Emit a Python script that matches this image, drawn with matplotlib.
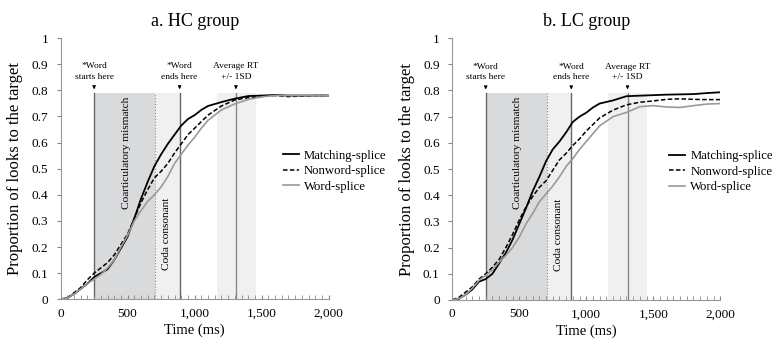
import numpy as np
import matplotlib.pyplot as plt
from matplotlib.ticker import MultipleLocator, FuncFormatter

plt.rcParams['font.family'] = ['Liberation Serif', 'DejaVu Serif']

# ---------------- data ----------------
TITLES = ["a. HC group", "b. LC group"]
SERIES = ["Matching-splice", "Nonword-splice", "Word-splice"]

# time grid (ms), shared by both groups
time_ms = [0, 50, 100, 150, 200, 250, 300, 350, 400, 450, 500, 550, 600, 650, 700,
           750, 800, 850, 900, 950, 1000, 1050, 1100,
           1200, 1300, 1400, 1500, 1600, 1700, 1800, 1900, 2000]

# HC group
hc_match = [0, .005, .02, .04, .06, .085, .10, .115, .15, .195, .24, .31, .385, .45, .51,
            .555, .595, .63, .665, .69, .705, .725, .74,
            .755, .768, .778, .78, .782, .78, .78, .78, .78]
hc_nonword = [0, .005, .025, .045, .075, .10, .12, .14, .17, .21, .25, .31, .37, .42, .465,
              .49, .52, .56, .595, .63, .655, .68, .705,
              .74, .763, .772, .776, .78, .776, .778, .78, .78]
hc_word = [0, .005, .02, .04, .06, .077, .095, .12, .15, .20, .245, .30, .34, .375, .40,
           .43, .47, .52, .555, .59, .62, .655, .685,
           .725, .748, .765, .775, .78, .78, .78, .78, .78]

# LC group
lc_match = [0, .005, .02, .04, .07, .08, .10, .14, .18, .23, .29, .35, .415, .47, .53,
            .575, .605, .64, .68, .70, .715, .735, .75,
            .762, .778, .78, .782, .784, .785, .786, .79, .793]
lc_nonword = [0, .01, .03, .05, .08, .10, .125, .155, .20, .25, .305, .355, .395, .43, .455,
              .495, .535, .56, .59, .615, .645, .67, .695,
              .725, .745, .755, .76, .766, .768, .766, .765, .765]
lc_word = [0, .005, .02, .045, .075, .094, .115, .145, .17, .20, .24, .29, .33, .375, .405,
           .435, .47, .51, .54, .575, .605, .635, .665,
           .70, .716, .738, .742, .737, .735, .742, .748, .75]

GROUPS = [[hc_match, hc_nonword, hc_word],
          [lc_match, lc_nonword, lc_word]]

# event times (ms)
WORD_START = 250
MISMATCH_END = 705
WORD_END = 888
RT_MEAN = 1308
RT_LO, RT_HI = 1165, 1455
BAND_TOP = 0.79

STYLES = [dict(color="black", ls="-", lw=1.3),
          dict(color="black", ls=(0, (3, 1.5)), lw=1.1),
          dict(color="#9a9a9a", ls="-", lw=1.2)]

fig = plt.figure(figsize=(7.77, 3.46), dpi=100)
axes_pos = [[0.078, 0.135, 0.345, 0.755], [0.582, 0.133, 0.345, 0.757]]
legend_x = [0.83, 0.81]

for i, (pos, title, ys) in enumerate(zip(axes_pos, TITLES, GROUPS)):
    ax = fig.add_axes(pos)
    ax.set_xlim(0, 2000)
    ax.set_ylim(0, 1)

    ax.fill_between([WORD_START, MISMATCH_END], 0, BAND_TOP, color="#d9dadc", lw=0, zorder=0)
    ax.fill_between([MISMATCH_END, WORD_END], 0, BAND_TOP, color="#f0f0f0", lw=0, zorder=0)
    ax.fill_between([RT_LO, RT_HI], 0, BAND_TOP, color="#f0f0f0", lw=0, zorder=0)
    ax.plot([WORD_START] * 2, [0, BAND_TOP], color="#666666", lw=1.0, zorder=1)
    ax.plot([MISMATCH_END] * 2, [0, BAND_TOP], color="#888888", lw=0.8, ls=":", zorder=1)
    ax.plot([WORD_END] * 2, [0, BAND_TOP], color="#666666", lw=1.0, zorder=1)
    ax.plot([RT_MEAN] * 2, [0, BAND_TOP], color="#888888", lw=1.0, zorder=1)

    for y, name, st in zip(ys, SERIES, STYLES):
        ax.plot(time_ms, y, label=name, zorder=3, **st)

    arrow = dict(arrowstyle="-|>", color="black", lw=0.6, mutation_scale=5)
    for x, txt in [(WORD_START, "*Word\nstarts here"),
                   (WORD_END, "*Word\nends here"),
                   (RT_MEAN, "Average RT\n+/- 1SD")]:
        ax.annotate(txt, xy=(x, BAND_TOP + 0.003), xytext=(x, 0.835),
                    ha="center", va="bottom", fontsize=6.8, linespacing=1.45,
                    arrowprops=arrow)

    ax.text(488, 0.56, "Coarticulatory mismatch", rotation=90, ha="center",
            va="center", fontsize=8.2)
    ax.text(793, 0.25, "Coda consonant", rotation=90, ha="center",
            va="center", fontsize=8.2)

    ax.set_title(title, fontsize=13, pad=9)
    ax.set_xlabel("Time (ms)", fontsize=10.5, labelpad=3)
    ax.set_ylabel("Proportion of looks to the target", fontsize=12, labelpad=6)

    ax.xaxis.set_major_locator(MultipleLocator(500))
    ax.xaxis.set_minor_locator(MultipleLocator(50))
    ax.yaxis.set_major_locator(MultipleLocator(0.1))
    ax.xaxis.set_major_formatter(FuncFormatter(lambda v, p: f"{int(v):,}"))
    ax.yaxis.set_major_formatter(FuncFormatter(lambda v, p: f"{v:.1f}".rstrip("0").rstrip(".") if v else "0"))
    ax.tick_params(axis="x", which="both", direction="in", length=3, color="#888888",
                   labelsize=9.5, pad=6)
    ax.tick_params(axis="y", direction="out", length=3, color="#888888",
                   labelsize=9.5, pad=6)
    for s in ["top", "right"]:
        ax.spines[s].set_visible(False)
    for s in ["left", "bottom"]:
        ax.spines[s].set_color("#999999")
        ax.spines[s].set_linewidth(0.8)

    ax.legend(loc="center left", bbox_to_anchor=(legend_x[i], 0.49), frameon=False,
              fontsize=9.2, handlelength=1.25, handletextpad=0.4,
              labelspacing=0.27, borderaxespad=0, borderpad=0)

fig.savefig("out.png", dpi=100)
